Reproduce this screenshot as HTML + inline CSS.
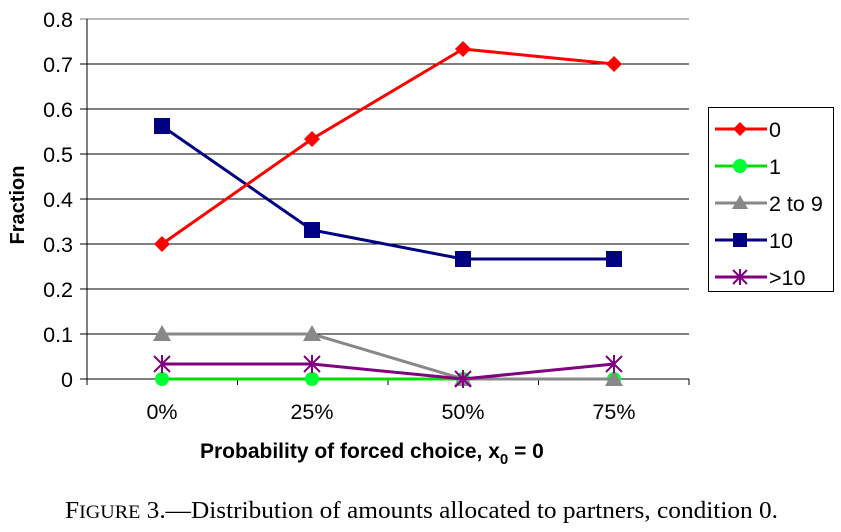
<!DOCTYPE html>
<html><head><style>
body{margin:0;background:#fff;}
svg{display:block;}
</style></head><body>
<svg width="841" height="532" xmlns="http://www.w3.org/2000/svg" font-family="Liberation Sans, Arial, sans-serif">
<rect width="841" height="532" fill="#fff"/>
<g stroke="#000" stroke-width="1">
<line x1="80" y1="19" x2="689" y2="19" stroke="#777"/>
<line x1="80" y1="64" x2="689" y2="64"/>
<line x1="80" y1="109" x2="689" y2="109"/>
<line x1="80" y1="154" x2="689" y2="154"/>
<line x1="80" y1="199" x2="689" y2="199"/>
<line x1="80" y1="244" x2="689" y2="244"/>
<line x1="80" y1="289" x2="689" y2="289"/>
<line x1="80" y1="334" x2="689" y2="334"/>
<line x1="80" y1="379" x2="689" y2="379"/>
<line x1="87" y1="19" x2="87" y2="379"/>
<line x1="87" y1="379" x2="87" y2="385"/>
<line x1="237.5" y1="379" x2="237.5" y2="385"/>
<line x1="388" y1="379" x2="388" y2="385"/>
<line x1="538.5" y1="379" x2="538.5" y2="385"/>
<line x1="689" y1="379" x2="689" y2="385"/>
</g>
<g font-size="21.5" text-anchor="end" fill="#000">
<text x="73" y="27">0.8</text><text x="73" y="72">0.7</text><text x="73" y="117">0.6</text>
<text x="73" y="162">0.5</text><text x="73" y="207">0.4</text><text x="73" y="252">0.3</text>
<text x="73" y="297">0.2</text><text x="73" y="342">0.1</text><text x="73" y="387">0</text>
</g>
<g font-size="21.5" text-anchor="middle">
<text x="162" y="419">0%</text><text x="312" y="419">25%</text><text x="463" y="419">50%</text><text x="614" y="419">75%</text>
</g>
<text x="200" y="458" font-size="21" font-weight="bold">Probability of forced choice, x<tspan font-size="15" dy="6">0</tspan><tspan dy="-6"> = 0</tspan></text>
<text transform="translate(24,205) rotate(-90)" font-size="20" font-weight="bold" text-anchor="middle">Fraction</text>
<polyline points="162,379 312,379 463,379 614,379" fill="none" stroke="#00e000" stroke-width="3"/>
<g fill="#00ff33"><circle cx="162" cy="379" r="7"/><circle cx="312" cy="379" r="7"/><circle cx="463" cy="379" r="7"/><circle cx="614" cy="379" r="7"/></g>
<polyline points="162,334 312,334 463,379 614,379" fill="none" stroke="#888" stroke-width="3"/>
<g fill="#888"><polygon points="162,325 171,341 153,341"/><polygon points="312,325 321,341 303,341"/><polygon points="463,370 472,386 454,386"/><polygon points="614,370 623,386 605,386"/></g>
<polyline points="162,364 312,364 463,379 614,364" fill="none" stroke="#800080" stroke-width="3"/>
<g stroke="#800080" stroke-width="2">
<path d="M154,356l16,16M154,372l16,-16M162,355v18M304,356l16,16M304,372l16,-16M312,355v18M455,371l16,16M455,387l16,-16M463,370v18M606,356l16,16M606,372l16,-16M614,355v18"/></g>
<polyline points="162,126 312,230 463,259 614,259" fill="none" stroke="#000080" stroke-width="3"/>
<g fill="#000080"><rect x="154" y="118" width="16" height="16"/><rect x="304" y="222" width="16" height="16"/><rect x="455" y="251" width="16" height="16"/><rect x="606" y="251" width="16" height="16"/></g>
<polyline points="162,244 312,139 463,49 614,64" fill="none" stroke="#ff0000" stroke-width="3"/>
<g fill="#ff0000"><polygon points="162,236 170,244 162,252 154,244"/><polygon points="312,131 320,139 312,147 304,139"/><polygon points="463,41 471,49 463,57 455,49"/><polygon points="614,56 622,64 614,72 606,64"/></g>
<rect x="708.5" y="107.5" width="125" height="184" fill="#fff" stroke="#000"/>
<g stroke-width="3">
<line x1="715" y1="129" x2="767" y2="129" stroke="#f00"/>
<line x1="715" y1="166" x2="767" y2="166" stroke="#00e000"/>
<line x1="715" y1="203" x2="767" y2="203" stroke="#888"/>
<line x1="715" y1="240" x2="767" y2="240" stroke="#000080"/>
<line x1="715" y1="277" x2="767" y2="277" stroke="#800080"/>
</g>
<polygon points="740,122 747,129 740,136 733,129" fill="#f00"/>
<circle cx="740" cy="166" r="7" fill="#00ff33"/>
<polygon points="740,195 748,209 732,209" fill="#888"/>
<rect x="733" y="233" width="14" height="14" fill="#000080"/>
<path d="M733,270l14,14M733,284l14,-14M740,269v16" stroke="#800080" stroke-width="2"/>
<g font-size="21.5">
<text x="769" y="137">0</text><text x="769" y="174">1</text><text x="769" y="211">2 to 9</text>
<text x="769" y="248">10</text><text x="769" y="285">&gt;10</text>
</g>
<text x="65" y="518" font-family="Liberation Serif, serif" font-size="24" textLength="713" lengthAdjust="spacingAndGlyphs">F<tspan font-size="19">IGURE</tspan> 3.—Distribution of amounts allocated to partners, condition 0.</text>
</svg>
</body></html>
